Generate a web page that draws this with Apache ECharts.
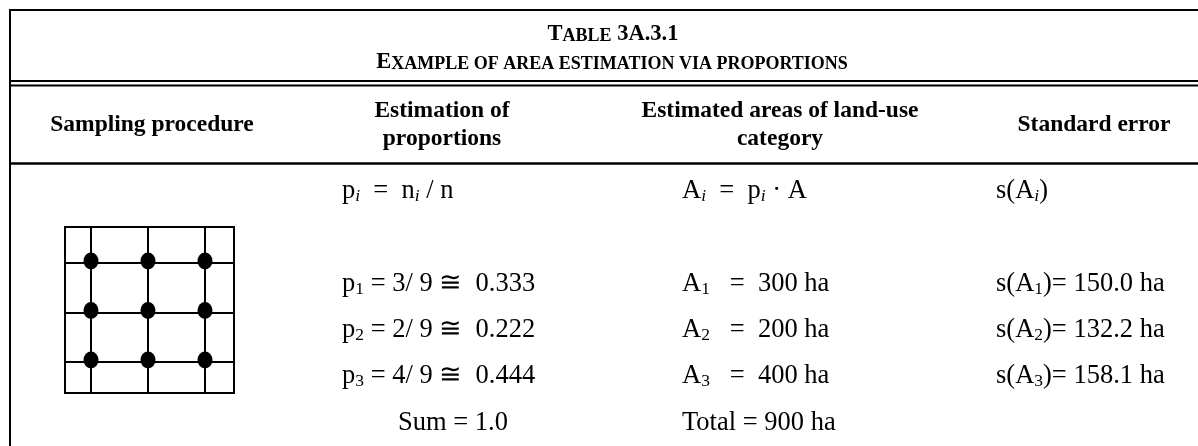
<!DOCTYPE html>
<html>
<head>
<meta charset="utf-8">
<script src="https://cdn.jsdelivr.net/npm/echarts@6/dist/echarts.min.js"></script>
<style>
  html, body { margin: 0; padding: 0; background: #fff; }
  #table_frame { width: 1198px; height: 446px; }
</style>
</head>
<body>
<div id="table_frame"></div>
<script>
// sample grid: 3 x 3 points on the grid intersections
const sampleCols = [0, 1, 2];
const sampleRows = [0, 1, 2];
const gridLinesX = [0, 1, 2];
const gridLinesY = [0, 1, 2];

const columnHeaders = ['Sampling procedure', 'Estimation of\nproportions', 'Estimated areas of land-use\ncategory', 'Standard error'];
const classIds = ['1', '2', '3'];
const classCounts = [3, 2, 4];
const nPoints = 9;
const proportions = ['0.333', '0.222', '0.444'];
const areasHa = [300, 200, 400];
const stdErrorsHa = ['150.0', '132.2', '158.1'];
const proportionSum = '1.0';
const totalArea = 900;

const serif = '"Liberation Serif", "DejaVu Serif", serif';

const richBody = {
  t: { fontFamily: serif, fontSize: 26.5, lineHeight: 30, color: '#000', verticalAlign: 'bottom' },
  s: { fontFamily: serif, fontSize: 17.5, lineHeight: 18, color: '#000', verticalAlign: 'bottom' },
  si: { fontFamily: serif, fontSize: 17.5, lineHeight: 18, fontStyle: 'italic', color: '#000', verticalAlign: 'bottom' }
};
const richTitle = {
  big: { fontFamily: serif, fontSize: 22.5, lineHeight: 25, fontWeight: 'bold', color: '#000', verticalAlign: 'bottom' },
  small: { fontFamily: serif, fontSize: 18, lineHeight: 21, fontWeight: 'bold', color: '#000', verticalAlign: 'bottom' }
};

function bodyText(x, y, text, align) {
  return {
    type: 'text', x: x, y: y,
    style: { text: text, rich: richBody, textAlign: align || 'left', textVerticalAlign: 'middle' }
  };
}

function hLine(y, w) {
  return { type: 'line', shape: { x1: 9, y1: y, x2: 1198, y2: y }, style: { stroke: '#000', lineWidth: w } };
}

document.addEventListener('DOMContentLoaded', function () {
  var myChart = echarts.init(document.getElementById('table_frame'));

  var points = [];
  sampleRows.forEach(function (r) {
    sampleCols.forEach(function (c) { points.push([c, r]); });
  });

  var headerX = [152, 442, 780, 1094];
  var headers = columnHeaders.map(function (h, i) {
    return {
      type: 'text', x: headerX[i], y: 125,
      style: {
        text: h, fontFamily: serif, fontSize: 23.5, fontWeight: 'bold', lineHeight: 28,
        fill: '#000', textAlign: 'center', textVerticalAlign: 'middle'
      }
    };
  });

  var rowY = [283, 329, 375];
  var rows = [];
  classIds.forEach(function (k, i) {
    rows.push(bodyText(342, rowY[i], '{t|p}{s|' + k + '}{t| = ' + classCounts[i] + '/ ' + nPoints + ' \u2245  ' + proportions[i] + '}'));
    rows.push(bodyText(682, rowY[i], '{t|A}{s|' + k + '}{t|   =  ' + areasHa[i] + ' ha}'));
    rows.push(bodyText(996, rowY[i], '{t|s(A}{s|' + k + '}{t|)= ' + stdErrorsHa[i] + ' ha}'));
  });

  var option = {
    animation: false,
    backgroundColor: '#fff',
    grid: {
      left: 65, top: 227, width: 169, height: 166,
      show: true, borderColor: '#000', borderWidth: 2, backgroundColor: 'transparent'
    },
    xAxis: {
      type: 'value', min: -0.456, max: 2.509,
      axisLine: { show: false }, axisTick: { show: false }, axisLabel: { show: false }, splitLine: { show: false }
    },
    yAxis: {
      type: 'value', min: -0.626, max: 2.727,
      axisLine: { show: false }, axisTick: { show: false }, axisLabel: { show: false }, splitLine: { show: false }
    },
    series: [
      {
        type: 'scatter',
        data: points,
        symbol: 'circle',
        symbolSize: [15, 17],
        symbolOffset: [0, -2],
        itemStyle: { color: '#000', opacity: 1 },
        z: 5,
        markLine: {
          silent: true,
          symbol: 'none',
          label: { show: false },
          lineStyle: { color: '#000', width: 2, type: 'solid' },
          data: gridLinesX.map(function (v) { return { xAxis: v }; })
            .concat(gridLinesY.map(function (v) { return { yAxis: v }; }))
        }
      }
    ],
    graphic: [
      // outer frame
      { type: 'line', shape: { x1: 10, y1: 10, x2: 10, y2: 446 }, style: { stroke: '#000', lineWidth: 2 } },
      hLine(10, 2),
      hLine(81, 2),
      hLine(85.5, 2),
      hLine(163.5, 2.5),
      {
        type: 'text', x: 613, y: 33,
        style: { text: '{big|T}{small|ABLE}{big| 3A.3.1}', rich: richTitle, textAlign: 'center', textVerticalAlign: 'middle' }
      },
      {
        type: 'text', x: 612, y: 61,
        style: { text: '{big|E}{small|XAMPLE OF AREA ESTIMATION VIA PROPORTIONS}', rich: richTitle, textAlign: 'center', textVerticalAlign: 'middle' }
      }
    ].concat(headers).concat([
      bodyText(342, 190, '{t|p}{si|i}{t|  =  n}{si|i}{t| / n}'),
      bodyText(682, 190, '{t|A}{si|i}{t|  =  p}{si|i}{t| \u00b7 A}'),
      bodyText(996, 190, '{t|s(A}{si|i}{t|)}'),
      bodyText(398, 422, '{t|Sum = ' + proportionSum + '}'),
      bodyText(682, 422, '{t|Total = ' + totalArea + ' ha}')
    ]).concat(rows)
  };

  myChart.setOption(option);
});
</script>
</body>
</html>
